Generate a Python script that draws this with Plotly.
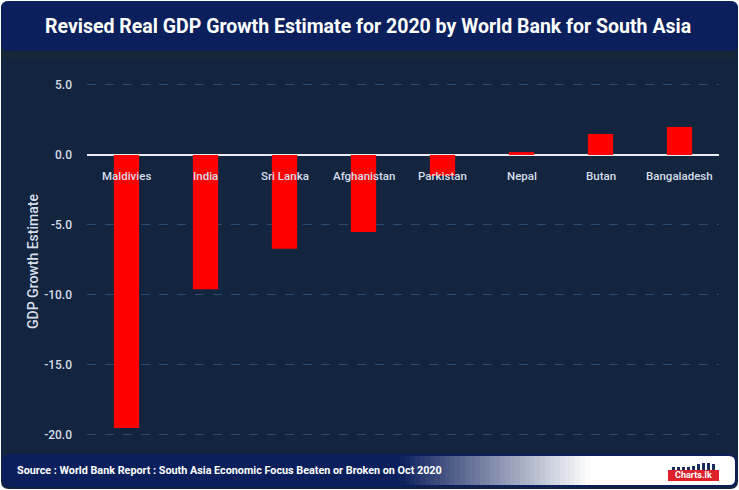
import plotly.graph_objects as go

countries = ["Maldivies", "India", "Sri Lanka", "Afghanistan", "Parkistan", "Nepal", "Butan", "Bangaladesh"]
growth = [-19.5, -9.6, -6.7, -5.5, -1.5, 0.2, 1.5, 2.0]
y_ticks = [-20, -15, -10, -5, 0, 5]
y_tick_labels = ["-20.0", "-15.0", "-10.0", "-5.0", "0.0", "5.0"]

W, H = 739, 490
L, R, T, B = 87, 20, 62, 49
PW, PH = W - L - R, H - T - B

FONT = "Roboto, sans-serif"
BG = "#12243e"
BAND = "#0b1f5c"


def px(x):
    return (x - L) / PW


def py(y):
    return (H - B - y) / PH


def rrect(x0, y0, x1, y1, r):
    """rounded rectangle path in paper coords from pixel coords"""
    pts = []
    pts.append(f"M{px(x0 + r)},{py(y0)}")
    pts.append(f"L{px(x1 - r)},{py(y0)}")
    pts.append(f"Q{px(x1)},{py(y0)} {px(x1)},{py(y0 + r)}")
    pts.append(f"L{px(x1)},{py(y1 - r)}")
    pts.append(f"Q{px(x1)},{py(y1)} {px(x1 - r)},{py(y1)}")
    pts.append(f"L{px(x0 + r)},{py(y1)}")
    pts.append(f"Q{px(x0)},{py(y1)} {px(x0)},{py(y1 - r)}")
    pts.append(f"L{px(x0)},{py(y0 + r)}")
    pts.append(f"Q{px(x0)},{py(y0)} {px(x0 + r)},{py(y0)}")
    pts.append("Z")
    return " ".join(pts)


fig = go.Figure(go.Bar(
    x=countries, y=growth, marker_color="#ff0000", marker_line_width=0,
    width=0.32, hoverinfo="x+y"))

shapes = []
# full background
shapes.append(dict(type="path", xref="paper", yref="paper", layer="below",
                   path=rrect(1, 1, 738, 489, 8), fillcolor=BG, line_width=0))
# shadow under title band
shapes.append(dict(type="rect", xref="paper", yref="paper", layer="below",
                   x0=px(2), x1=px(735), y0=py(51), y1=py(58),
                   fillcolor="#172638", line_width=0))
# title band
shapes.append(dict(type="path", xref="paper", yref="paper", layer="below",
                   path=rrect(1, 1, 738, 51, 8), fillcolor=BAND, line_width=0))
# footer band
shapes.append(dict(type="path", xref="paper", yref="paper", layer="below",
                   path=rrect(2, 454, 737, 487, 8), fillcolor=BAND, line_width=0))
# gradient in footer
g0, g1, n = 400, 590, 38
c0 = (11, 31, 92)
for i in range(n):
    t = (i + 0.5) / n
    c = tuple(int(round(c0[k] + (255 - c0[k]) * t)) for k in range(3))
    xa = g0 + (g1 - g0) * i / n
    xb = g0 + (g1 - g0) * (i + 1) / n + 0.6
    shapes.append(dict(type="rect", xref="paper", yref="paper", layer="below",
                       x0=px(xa), x1=px(xb), y0=py(456), y1=py(485),
                       fillcolor=f"rgb{c}", line_width=0))
shapes.append(dict(type="path", xref="paper", yref="paper", layer="below",
                   path=f"M{px(g1)},{py(456)} L{px(729)},{py(456)} Q{px(735)},{py(456)} {px(735)},{py(462)} "
                        f"L{px(735)},{py(479)} Q{px(735)},{py(485)} {px(729)},{py(485)} L{px(g1)},{py(485)} Z",
                   fillcolor="#ffffff", line_width=0))
# logo: small bars + red box
bar_h = [3, 3, 3, 3, 4, 6, 7, 7, 6]
for i, h in enumerate(bar_h):
    xa = 672 + i * 5
    shapes.append(dict(type="rect", xref="paper", yref="paper", layer="above",
                       x0=px(xa), x1=px(xa + 3), y0=py(470), y1=py(470 - h),
                       fillcolor="#1b2a5a", line_width=0))
shapes.append(dict(type="rect", xref="paper", yref="paper", layer="above",
                   x0=px(668), x1=px(719), y0=py(481), y1=py(470),
                   fillcolor="#e0202a", line_width=0))

annotations = []
for c in countries:
    annotations.append(dict(x=c, y=0, xref="x", yref="y", text=c, showarrow=False,
                            yanchor="middle", yshift=-21,
                            font=dict(family=FONT, size=11.5, color="#d6deea", weight=500)))
annotations.append(dict(x=px(368), y=py(27), xref="paper", yref="paper",
                        text="<b>Revised Real GDP Growth Estimate for 2020 by World Bank for South Asia</b>",
                        showarrow=False, xanchor="center", yanchor="middle",
                        font=dict(family=FONT, size=19.5, color="#ffffff")))
annotations.append(dict(x=px(15), y=py(470), xref="paper", yref="paper",
                        text="<b>Source : World Bank Report : South Asia Economic Focus Beaten or Broken on Oct 2020</b>",
                        showarrow=False, xanchor="left", yanchor="middle",
                        font=dict(family=FONT, size=10.8, color="#ffffff")))
annotations.append(dict(x=px(693.5), y=py(475.5), xref="paper", yref="paper",
                        text="<b>Charts.lk</b>", showarrow=False, xanchor="center", yanchor="middle",
                        font=dict(family=FONT, size=9, color="#ffffff")))
annotations.append(dict(x=px(33), y=py(262), xref="paper", yref="paper",
                        text="GDP Growth Estimate", textangle=-90, showarrow=False,
                        xanchor="center", yanchor="middle",
                        font=dict(family=FONT, size=14, color="#d6deea", weight=500)))

fig.update_layout(
    width=W, height=H,
    margin=dict(l=L, r=R, t=T, b=B),
    paper_bgcolor="#ffffff", plot_bgcolor="rgba(0,0,0,0)",
    showlegend=False,
    shapes=shapes, annotations=annotations,
    bargap=0.68,
    xaxis=dict(showticklabels=False, showgrid=False, zeroline=False, showline=False,
               ticks="", fixedrange=True),
    yaxis=dict(range=[-20.43, 6.64], tickvals=y_ticks, ticktext=y_tick_labels,
               showgrid=True, gridcolor="#2b4a70", griddash="dash", gridwidth=1,
               zeroline=True, zerolinecolor="#e8ecf2", zerolinewidth=1.5,
               showline=False, ticks="", ticklabelstandoff=14,
               tickfont=dict(family=FONT, size=12, color="#d6deea", weight=500)),
)

fig.write_html("out.html", config={"displayModeBar": False},
               post_script="document.body.style.margin='0';document.body.style.overflow='hidden';")
